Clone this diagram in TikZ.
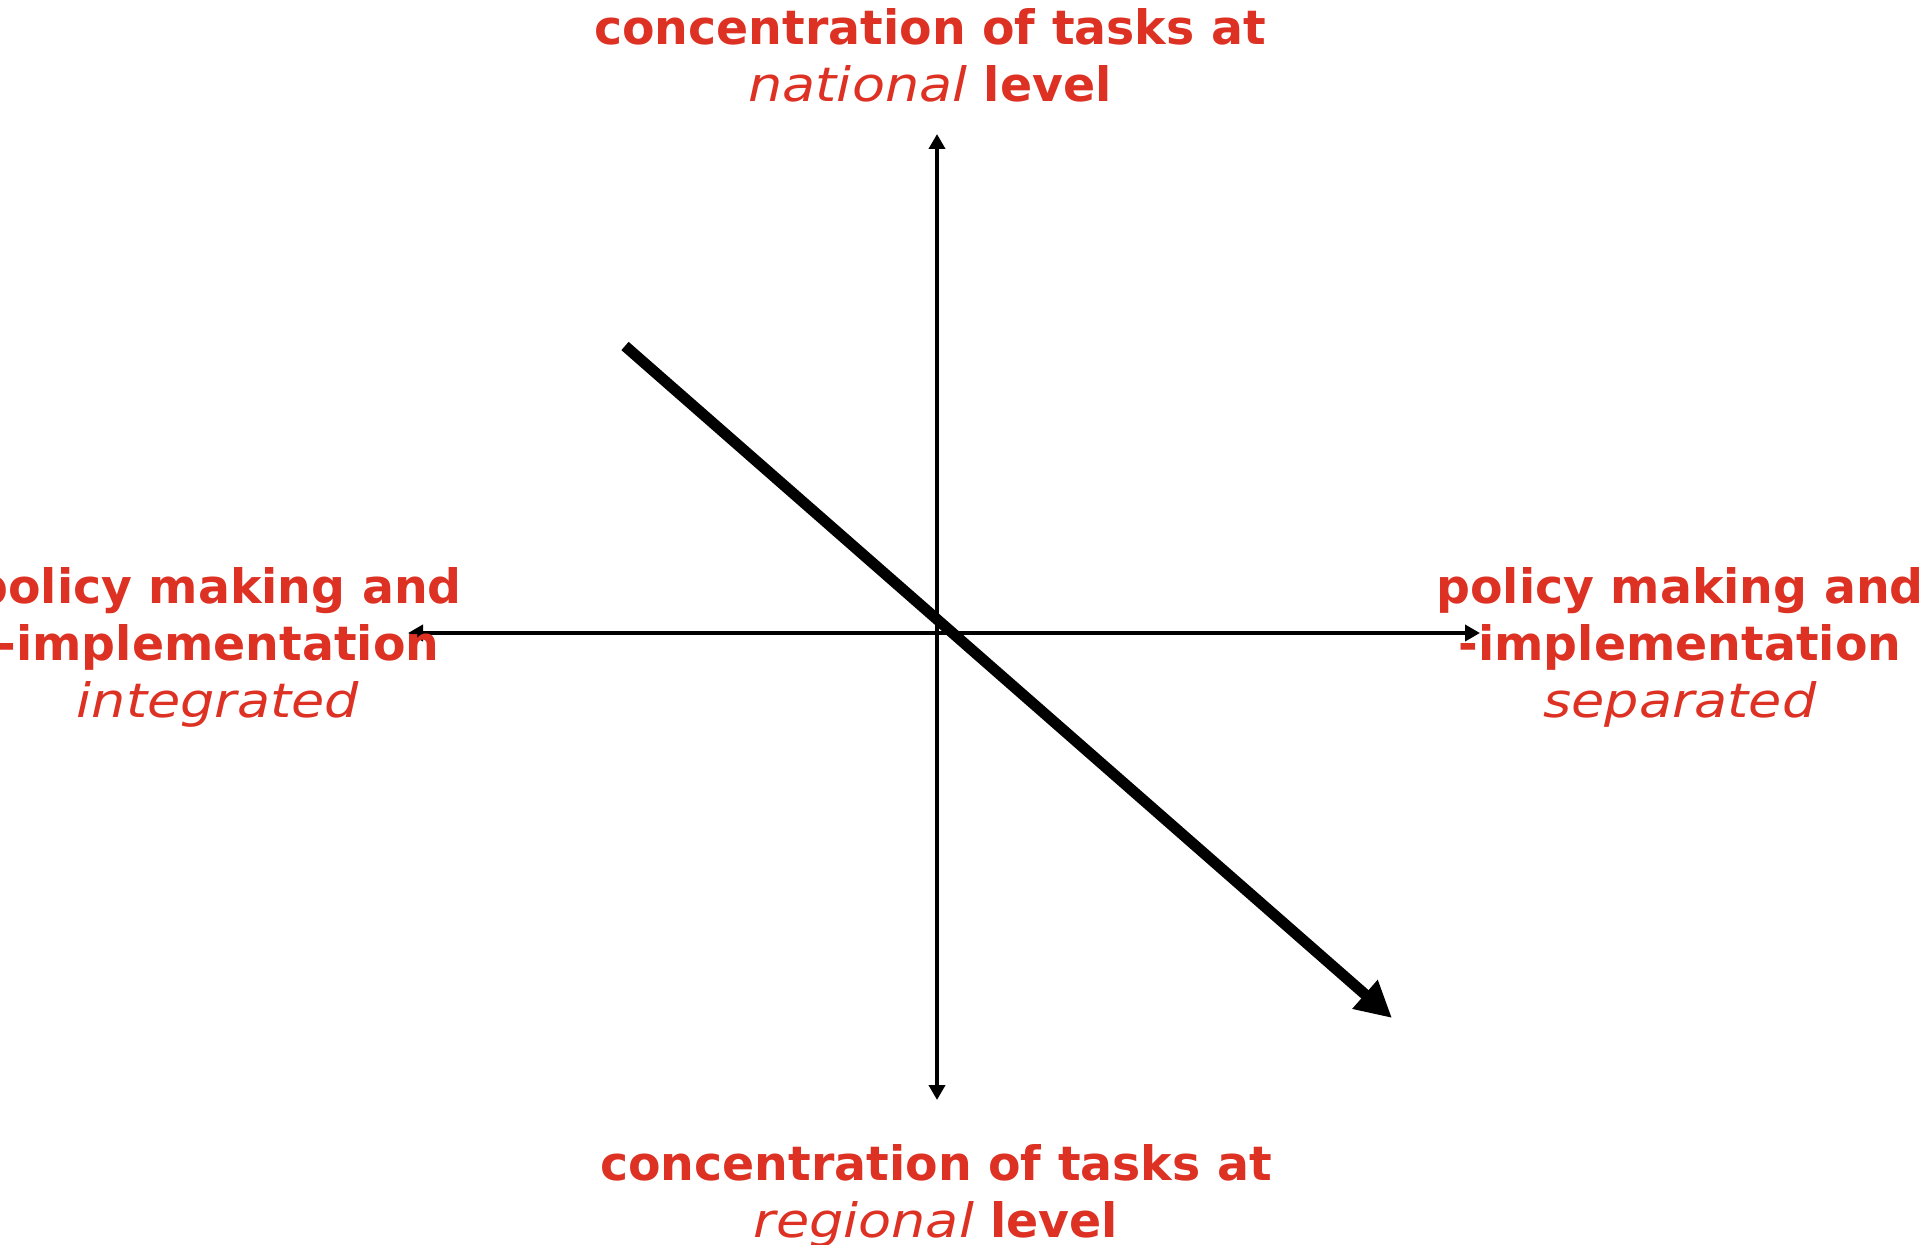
\documentclass[tikz,border=0pt]{standalone}
\usepackage{fontspec}
\setmainfont{DejaVu Sans}
\usetikzlibrary{arrows.meta}
\definecolor{labelred}{RGB}{221,49,36}
\newcommand\litetext[1]{\scalebox{1.14}[1]{\mdseries\itshape #1}}
\tikzset{
  axislabel/.style={text=labelred, font=\fontsize{23.7pt}{28.5pt}\selectfont\bfseries, align=center, inner sep=0pt, anchor=base},
  axisline/.style={line width=2.2pt, {Triangle[length=7.5pt,width=8pt]}-{Triangle[length=7.5pt,width=8pt]}},
  trendarrow/.style={line width=5.5pt, -{Triangle[length=18pt,width=18pt]}}
}
\begin{document}
\begin{tikzpicture}[x=0.5pt,y=-0.5pt]
\useasboundingbox (0,0) rectangle (1920,1245);
\coordinate (top) at (937,134);
\coordinate (bot) at (937,1100);
\coordinate (lft) at (408,633);
\coordinate (rgt) at (1480,633);
\coordinate (trendstart) at (625,346);
\coordinate (trendend) at (1392,1018);
\draw[axisline] (bot) -- (top);
\draw[axisline] (lft) -- (rgt);
\draw[trendarrow] (trendstart) -- (trendend);
\node[axislabel] (toplabel) at (930,102) {concentration of tasks at\\\litetext{national} level};
\node[axislabel] (botlabel) at (936,1237) {concentration of tasks at\\\litetext{regional} level};
\node[axislabel] (leftlabel) at (218,717) {policy making and\\-implementation\\\litetext{integrated}};
\node[axislabel] (rightlabel) at (1680,717) {policy making and\\-implementation\\\litetext{separated}};
\end{tikzpicture}
\end{document}
